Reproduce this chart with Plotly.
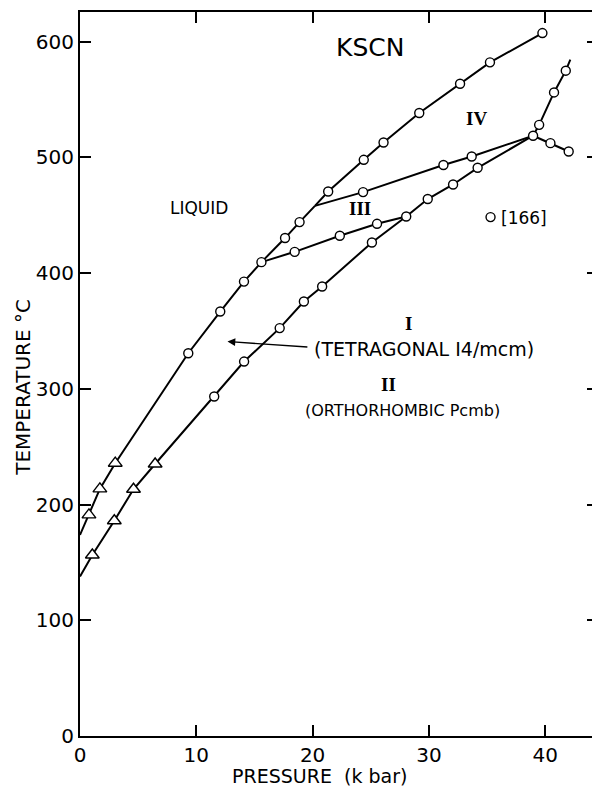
import plotly.graph_objects as go

# ---- data (pressure in kbar, temperature in °C) ----
# melting curve, lower part (liquid / I), from the T axis to the liquid-I-IV kink
melt_lo_P = [0, 0.77, 1.71, 3.03, 9.31, 12.06, 14.1, 15.6, 17.63, 18.88, 20.2]
melt_lo_T = [173.7, 191, 213.5, 235.7, 330.7, 366.7, 392.6, 409.4, 430.2, 444, 458]
# melting curve, upper part (liquid / IV)
melt_hi_P = [20.2, 21.34, 24.4, 26.1, 29.17, 32.68, 35.25, 39.76]
melt_hi_T = [458, 470.4, 497.8, 512.8, 538.2, 563.5, 582, 607.3]
# I / II boundary
b12_P = [0, 1.06, 2.95, 4.6, 6.46, 11.54, 14.11, 17.17, 19.25, 20.82, 25.1, 28.05, 29.9, 32.08, 34.19, 38.96]
b12_T = [137.7, 156.4, 186, 213.2, 235, 293.3, 323.5, 352.4, 375.4, 388.3, 426.4, 448.8, 463.9, 476.5, 490.9, 518.6]
# II / III boundary
b23_P = [15.6, 18.46, 22.34, 25.54, 28.05]
b23_T = [409.4, 418.3, 432.2, 442.5, 448.8]
# III / IV boundary
b34_P = [20.2, 24.34, 31.25, 33.68, 38.96]
b34_T = [458, 469.9, 493.3, 500.7, 518.6]
# high-pressure branches from the triple point near 39 kbar
bhi_up_P = [38.96, 39.48, 40.76, 41.77, 42.16]
bhi_up_T = [518.6, 528, 556, 574.8, 584.3]
bhi_dn_P = [38.96, 40.45, 42.02]
bhi_dn_T = [518.6, 512.2, 505]

# measured points: circles
circ_P = [9.31, 12.06, 14.1, 15.6, 17.63, 18.88, 21.34, 24.4, 26.1, 29.17, 32.68, 35.25, 39.76,
          11.54, 14.11, 17.17, 19.25, 20.82, 25.1, 28.05, 29.9, 32.08, 34.19, 38.96,
          18.46, 22.34, 25.54, 24.34, 31.25, 33.68, 39.48, 40.76, 41.77, 40.45, 42.02]
circ_T = [330.7, 366.7, 392.6, 409.4, 430.2, 444, 470.4, 497.8, 512.8, 538.2, 563.5, 582, 607.3,
          293.3, 323.5, 352.4, 375.4, 388.3, 426.4, 448.8, 463.9, 476.5, 490.9, 518.6,
          418.3, 432.2, 442.5, 469.9, 493.3, 500.7, 528, 556, 574.8, 512.2, 505]
# measured points: triangles
tri_P = [0.77, 1.71, 3.03, 1.06, 2.95, 4.6, 6.46]
tri_T = [191, 213.5, 235.7, 156.4, 186, 213.2, 235]
# reference point [166]
ref_P = [35.3]
ref_T = [448.3]

x_ticks = [0, 10, 20, 30, 40]
y_ticks = [0, 100, 200, 300, 400, 500, 600]

FONT = "DejaVu Sans"
SERIF = "Liberation Serif"
LINE = dict(color="black", width=2)

fig = go.Figure()
for px_, ty_ in [(melt_lo_P, melt_lo_T), (melt_hi_P, melt_hi_T), (b12_P, b12_T),
                 (b23_P, b23_T), (b34_P, b34_T), (bhi_up_P, bhi_up_T), (bhi_dn_P, bhi_dn_T)]:
    fig.add_trace(go.Scatter(x=px_, y=ty_, mode="lines", line=LINE, hoverinfo="skip"))

fig.add_trace(go.Scatter(x=circ_P, y=circ_T, mode="markers",
                         marker=dict(symbol="circle", size=9, color="white",
                                     line=dict(color="black", width=1.4))))
fig.add_trace(go.Scatter(x=tri_P, y=tri_T, mode="markers",
                         marker=dict(symbol="triangle-up", size=12, color="white",
                                     line=dict(color="black", width=1.4))))
fig.add_trace(go.Scatter(x=ref_P, y=ref_T, mode="markers",
                         marker=dict(symbol="circle", size=9, color="white",
                                     line=dict(color="black", width=1.4))))

def txt(x, y, s, size=17, family=FONT, **kw):
    fig.add_annotation(x=x, y=y, text=s, showarrow=False,
                       font=dict(family=family, size=size, color="black"), **kw)

txt(24.95, 594.6, "KSCN", size=25)
txt(10.2, 456, "LIQUID", size=17)
txt(24.05, 455.5, "<b>III</b>", size=19, family=SERIF)
txt(34.1, 533.9, "<b>IV</b>", size=19, family=SERIF)
txt(28.25, 356.7, "<b>I</b>", size=19, family=SERIF)
txt(29.6, 334.2, "(TETRAGONAL I4/mcm)", size=19)
txt(26.54, 303.4, "<b>II</b>", size=19, family=SERIF)
txt(27.75, 281.2, "(ORTHORHOMBIC Pcmb)", size=16)
txt(38.2, 447.5, "[166]", size=17)

# arrow pointing to the melting curve
fig.add_annotation(x=12.68, y=340.8, ax=19.68, ay=336, xref="x", yref="y",
                   axref="x", ayref="y", text="", showarrow=True,
                   arrowhead=2, arrowsize=1.2, arrowwidth=1.3, arrowcolor="black")

# axis titles
fig.add_annotation(x=20.6, y=0, xref="x", yref="paper", yshift=-40, text="PRESSURE  (k bar)",
                   showarrow=False, yanchor="middle",
                   font=dict(family=FONT, size=19, color="black"))
fig.add_annotation(x=0, y=300.8, xref="paper", yref="y", xshift=-57, text="TEMPERATURE °C",
                   showarrow=False, textangle=-90, xanchor="center",
                   font=dict(family=FONT, size=20, color="black"))

axis_common = dict(showgrid=False, zeroline=False, showline=True, linecolor="black",
                   linewidth=2, mirror="ticks", ticks="inside", ticklen=11, tickwidth=1.6,
                   tickcolor="black", tickfont=dict(family=FONT, size=20, color="black"))
fig.update_xaxes(range=[0, 44.54], tickvals=x_ticks, ticktext=[str(v) for v in x_ticks],
                 **axis_common)
fig.update_yaxes(range=[0, 625.5], tickvals=y_ticks, ticktext=[str(v) for v in y_ticks],
                 **axis_common)

# the page body adds an 8 px offset, so the figure is 8 px smaller in each direction
fig.update_layout(width=592, height=778, margin=dict(l=72, r=0, t=4, b=50),
                  paper_bgcolor="white", plot_bgcolor="white", showlegend=False,
                  font=dict(family=FONT, color="black"))

fig.write_html("out.html")
